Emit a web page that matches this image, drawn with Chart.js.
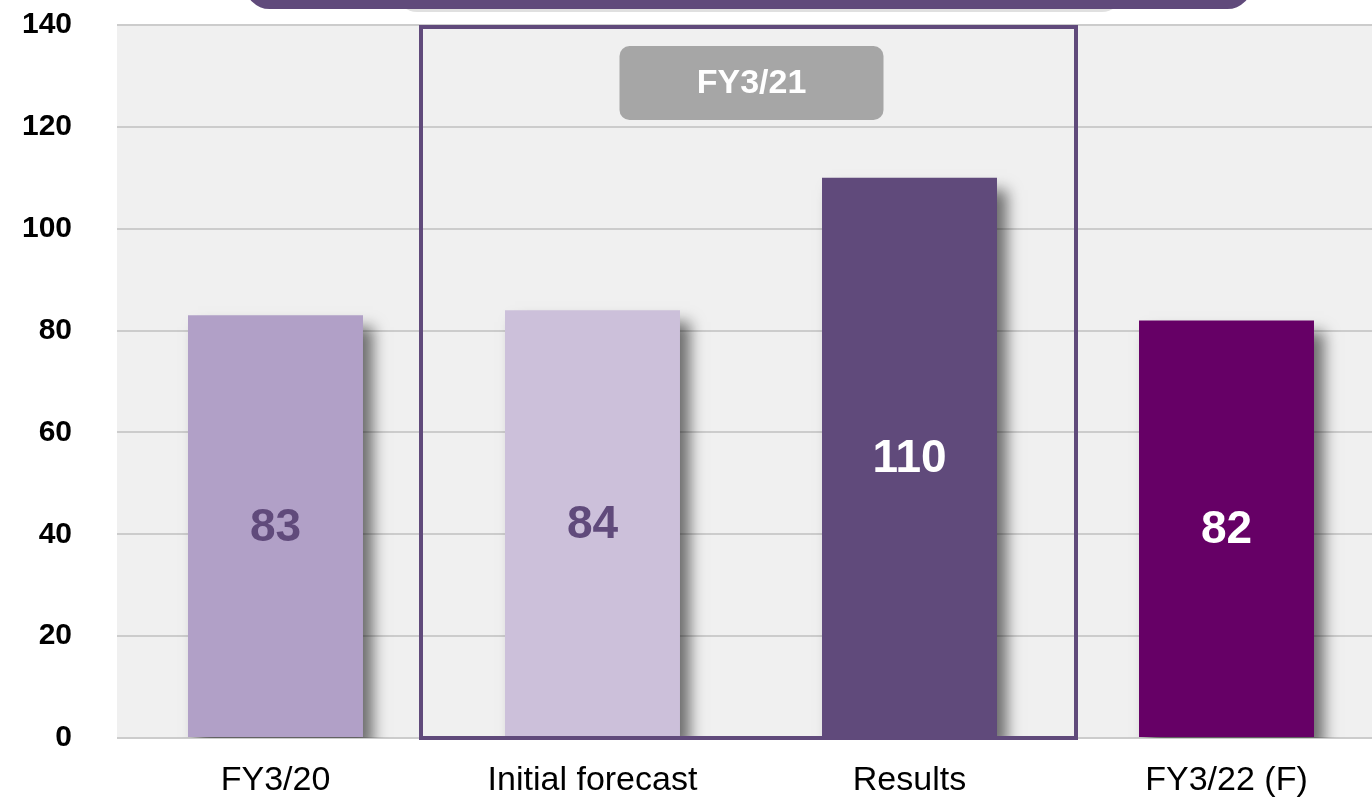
<!DOCTYPE html>
<html>
<head>
<meta charset="utf-8">
<script src="https://cdn.jsdelivr.net/npm/chart.js@4.4.1/dist/chart.umd.min.js"></script>
<style>
  html, body { margin: 0; padding: 0; background: #fff; overflow: hidden; }
  #wrap { position: relative; width: 1390px; height: 798px; }
</style>
</head>
<body>
<div id="wrap"><canvas id="chart"></canvas></div>
<script>
// data
const categories = ['FY3/20', 'Initial forecast', 'Results', 'FY3/22 (F)'];
const values = [83, 84, 110, 82];
const barColors = ['#b1a0c7', '#ccc0da', '#604a7b', '#660066'];
const valueColors = ['#604a7b', '#604a7b', '#ffffff', '#ffffff'];
const groupTitle = 'FY3/21';
const groupFrom = 1, groupTo = 2;   // category indexes inside the FY3/21 frame
const yMax = 140, yStep = 20;

const FONT = '"Liberation Sans", Arial, sans-serif';

// grey plot background + banner on top
const backdrop = {
    id: 'backdrop',
    beforeDraw(chart) {
        const { ctx, chartArea: a } = chart;
        ctx.save();
        ctx.fillStyle = '#f0f0f0';
        ctx.fillRect(a.left, a.top, a.right - a.left, a.bottom - a.top);
        ctx.restore();
    },
    afterDraw(chart) {
        const { ctx, chartArea: a } = chart;
        // purple banner cut by the top edge
        ctx.save();
        ctx.fillStyle = 'rgba(0,0,0,0.12)';
        ctx.beginPath();
        ctx.roundRect(a.left + 280, -40, 725, 52, 20);
        ctx.fill();
        ctx.fillStyle = '#604a7b';
        ctx.beginPath();
        ctx.roundRect(a.left + 128, -40, 1007, 49, 26);
        ctx.fill();
        ctx.restore();
    }
};

// soft drop shadow to the lower right of each bar
const barShadow = {
    id: 'barShadow',
    beforeDatasetsDraw(chart) {
        const ctx = chart.ctx;
        ctx.save();
        ctx.shadowColor = 'rgba(0,0,0,0.55)';
        ctx.shadowBlur = 14;
        ctx.shadowOffsetX = 10;
        ctx.shadowOffsetY = 12;
    },
    afterDatasetsDraw(chart) {
        chart.ctx.restore();
    }
};

// FY3/21 frame, its title tag and the value labels
const overlay = {
    id: 'overlay',
    afterDatasetsDraw(chart) {
        const { ctx, scales: { x, y } } = chart;
        const meta = chart.getDatasetMeta(0);

        ctx.save();
        const half = (x.getPixelForValue(1) - x.getPixelForValue(0)) / 2;
        const left = x.getPixelForValue(groupFrom) - half - 13;
        const right = x.getPixelForValue(groupTo) + half + 8;
        const top = y.getPixelForValue(yMax) + 2;
        const bottom = y.getPixelForValue(0);
        ctx.strokeStyle = '#604a7b';
        ctx.lineWidth = 4;
        ctx.strokeRect(left, top, right - left, bottom - top);

        // title tag
        const cx = (left + right) / 2 + 3;
        ctx.fillStyle = '#a6a6a6';
        ctx.beginPath();
        ctx.roundRect(cx - 132, top + 19, 264, 74, 10);
        ctx.fill();
        ctx.fillStyle = '#ffffff';
        ctx.font = 'bold 34px ' + FONT;
        ctx.textAlign = 'center';
        ctx.textBaseline = 'middle';
        ctx.fillText(groupTitle, cx, top + 57);

        // values in the middle of each bar
        ctx.font = 'bold 46px ' + FONT;
        meta.data.forEach((bar, i) => {
            ctx.fillStyle = valueColors[i];
            ctx.fillText(String(values[i]), bar.x, (bar.y + bar.base) / 2 + 2);
        });
        ctx.restore();
    }
};

new Chart(document.getElementById('chart'), {
    type: 'bar',
    data: {
        labels: categories,
        datasets: [{
            data: values,
            backgroundColor: barColors,
            borderWidth: 0,
            barPercentage: 0.552,
            categoryPercentage: 1.0
        }]
    },
    options: {
        responsive: true,
        maintainAspectRatio: false,
        animation: false,
        events: [],
        layout: { padding: { top: 25, left: 0, right: 5, bottom: 0 } },
        plugins: {
            legend: { display: false },
            tooltip: { enabled: false }
        },
        scales: {
            x: {
                grid: { display: false, drawTicks: false },
                border: { display: false },
                ticks: {
                    color: '#000',
                    padding: 22,
                    maxRotation: 0,
                    font: { family: FONT, size: 34 }
                },
                afterFit(scale) { scale.height = 60; }
            },
            y: {
                min: 0,
                max: yMax,
                grid: { color: '#cccccc', lineWidth: 2, drawTicks: false },
                border: { display: false },
                ticks: {
                    stepSize: yStep,
                    color: '#000',
                    padding: 45,
                    font: { family: FONT, size: 30, weight: 'bold' }
                },
                afterFit(scale) {
                    scale.width = 117;
                    // keep the tick padding from pushing the plot down
                    scale.paddingTop = 0;
                    scale.paddingBottom = 0;
                }
            }
        }
    },
    plugins: [backdrop, barShadow, overlay]
});
</script>
</body>
</html>
